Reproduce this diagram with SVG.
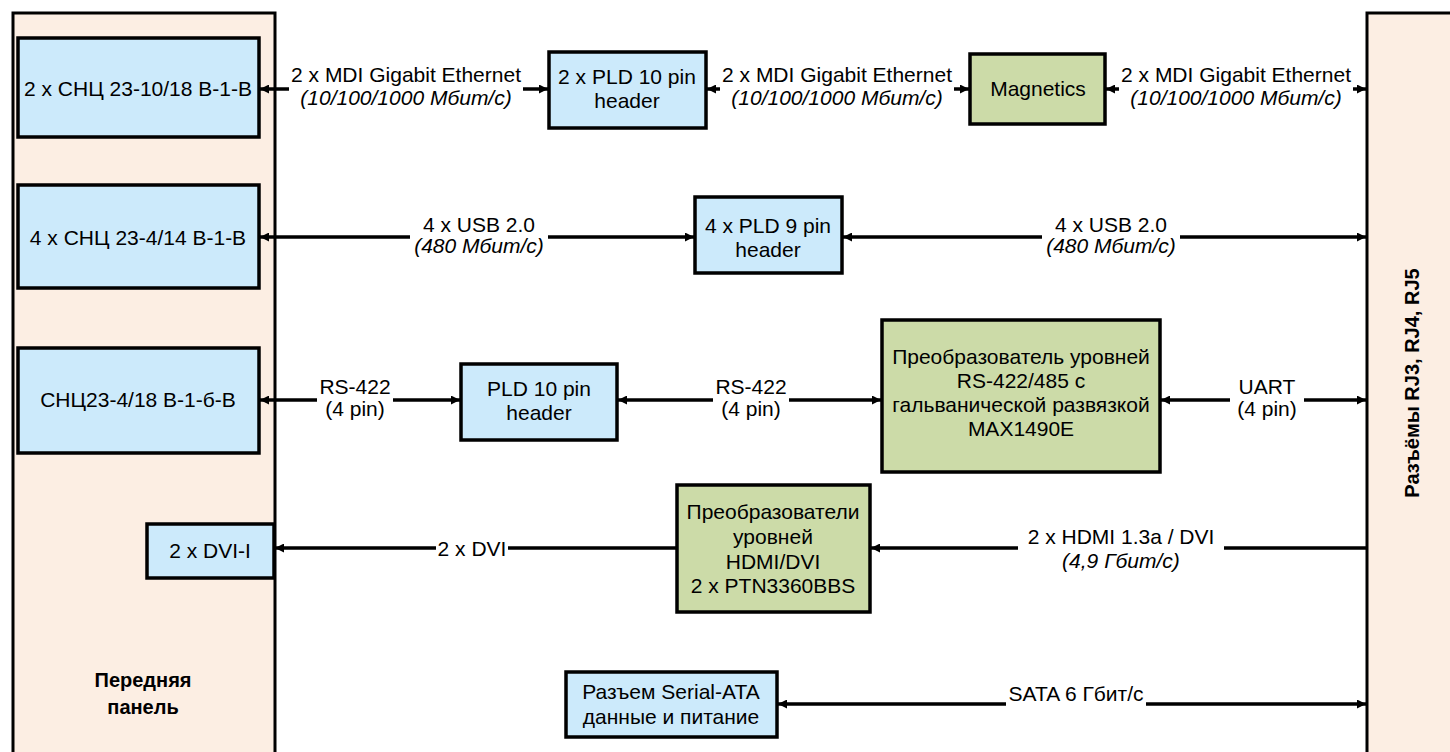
<svg xmlns="http://www.w3.org/2000/svg" width="1450" height="752" viewBox="0 0 1450 752">
<style>
text{font-family:"Liberation Sans",Arial,sans-serif;font-size:21px;fill:#000;text-anchor:middle}
.it{font-style:italic}
.b{font-weight:bold;font-size:20px}
.panel{fill:#FCEEE3;stroke:#000;stroke-width:3}
.blue{fill:#CCEAFB;stroke:#000;stroke-width:3.5}
.green{fill:#CCDBA8;stroke:#000;stroke-width:3.5}
.ln{stroke:#000;stroke-width:3.5;fill:none}
.bg{fill:#fff}
</style>
<defs>
<marker id="ah" viewBox="0 0 10 10" refX="10" refY="5" markerWidth="10" markerHeight="9" markerUnits="userSpaceOnUse" orient="auto-start-reverse">
<path d="M0,0 L10,5 L0,10 Z" fill="#000"/>
</marker>
</defs>
<rect width="1450" height="752" fill="#fff"/>
<g id="front-panel">
<rect class="panel" x="13" y="13" width="262" height="760"/>
<text class="b" x="143" y="687">Передняя</text>
<text class="b" x="143" y="714">панель</text>
</g>
<g id="rj-panel">
<rect class="panel" x="1367" y="13" width="100" height="760"/>
<text class="b" transform="translate(1419,383) rotate(-90)" x="0" y="0">Разъёмы RJ3, RJ4, RJ5</text>
</g>
<g id="snc1"><rect class="blue" x="18" y="38" width="241" height="99"/><text x="138" y="96">2 x СНЦ 23-10/18 В-1-В</text></g>
<g id="pld10x2"><rect class="blue" x="549" y="52" width="157" height="76"/><text x="627" y="84">2 x PLD 10 pin</text><text x="627" y="108">header</text></g>
<g id="magnetics"><rect class="green" x="970" y="54" width="135" height="70"/><text x="1038" y="96">Magnetics</text></g>
<g id="snc2"><rect class="blue" x="18" y="185" width="241" height="103"/><text x="138" y="245">4 x СНЦ 23-4/14 В-1-В</text></g>
<g id="pld9"><rect class="blue" x="695" y="197" width="147" height="76"/><text x="768" y="233">4 x PLD 9 pin</text><text x="768" y="257">header</text></g>
<g id="snc3"><rect class="blue" x="18" y="348" width="241" height="105"/><text x="138" y="407">СНЦ23-4/18 В-1-б-В</text></g>
<g id="pld10"><rect class="blue" x="461" y="364" width="156" height="76"/><text x="539" y="396">PLD 10 pin</text><text x="539" y="420">header</text></g>
<g id="max1490"><rect class="green" x="882" y="320" width="278" height="152"/><text x="1021" y="364">Преобразователь уровней</text><text x="1021" y="388">RS-422/485 с</text><text x="1021" y="412">гальванической развязкой</text><text x="1021" y="436">MAX1490E</text></g>
<g id="dvi"><rect class="blue" x="147" y="524" width="127" height="54"/><text x="210" y="558">2 x DVI-I</text></g>
<g id="ptn"><rect class="green" x="677" y="485" width="193" height="127"/><text x="773" y="519">Преобразователи</text><text x="773" y="544">уровней</text><text x="773" y="569">HDMI/DVI</text><text x="773" y="593">2 x PTN3360BBS</text></g>
<g id="sata"><rect class="blue" x="566" y="672" width="211" height="65"/><text x="671" y="699">Разъем Serial-ATA</text><text x="671" y="724">данные и питание</text></g>
<g id="connectors">
<line class="ln" x1="260" y1="89" x2="548" y2="89" marker-start="url(#ah)" marker-end="url(#ah)"/>
<line class="ln" x1="707" y1="89" x2="969" y2="89" marker-start="url(#ah)" marker-end="url(#ah)"/>
<line class="ln" x1="1106" y1="89" x2="1366" y2="89" marker-start="url(#ah)" marker-end="url(#ah)"/>
<line class="ln" x1="260" y1="237" x2="694" y2="237" marker-start="url(#ah)" marker-end="url(#ah)"/>
<line class="ln" x1="843" y1="237" x2="1366" y2="237" marker-start="url(#ah)" marker-end="url(#ah)"/>
<line class="ln" x1="260" y1="400" x2="460" y2="400" marker-start="url(#ah)" marker-end="url(#ah)"/>
<line class="ln" x1="618" y1="400" x2="881" y2="400" marker-start="url(#ah)" marker-end="url(#ah)"/>
<line class="ln" x1="1161" y1="400" x2="1366" y2="400" marker-start="url(#ah)" marker-end="url(#ah)"/>
<line class="ln" x1="677" y1="548" x2="275" y2="548" marker-end="url(#ah)"/>
<line class="ln" x1="1367" y1="548" x2="871" y2="548" marker-end="url(#ah)"/>
<line class="ln" x1="778" y1="704" x2="1366" y2="704" marker-start="url(#ah)" marker-end="url(#ah)"/>
<rect class="bg" x="289" y="66" width="234" height="46"/>
<text x="406" y="82">2 x MDI Gigabit Ethernet</text><text class="it" x="406" y="105">(10/100/1000 Мбит/с)</text>
<rect class="bg" x="720" y="66" width="234" height="46"/>
<text x="837" y="82">2 x MDI Gigabit Ethernet</text><text class="it" x="837" y="105">(10/100/1000 Мбит/с)</text>
<rect class="bg" x="1119" y="66" width="234" height="46"/>
<text x="1236" y="82">2 x MDI Gigabit Ethernet</text><text class="it" x="1236" y="105">(10/100/1000 Мбит/с)</text>
<rect class="bg" x="410" y="214" width="138" height="46"/>
<text x="479" y="232">4 x USB 2.0</text><text class="it" x="479" y="253">(480 Мбит/с)</text>
<rect class="bg" x="1042" y="214" width="138" height="46"/>
<text x="1111" y="232">4 x USB 2.0</text><text class="it" x="1111" y="253">(480 Мбит/с)</text>
<rect class="bg" x="317" y="376" width="76" height="46"/>
<text x="355" y="394">RS-422</text><text x="355" y="416">(4 pin)</text>
<rect class="bg" x="713" y="376" width="76" height="46"/>
<text x="751" y="394">RS-422</text><text x="751" y="416">(4 pin)</text>
<rect class="bg" x="1230" y="376" width="74" height="46"/>
<text x="1267" y="394">UART</text><text x="1267" y="416">(4 pin)</text>
<rect class="bg" x="436" y="537" width="72" height="22"/>
<text x="472" y="556">2 x DVI</text>
<rect class="bg" x="1018" y="526" width="206" height="46"/>
<text x="1121" y="544">2 x HDMI 1.3a / DVI</text><text class="it" x="1121" y="568">(4,9 Гбит/с)</text>
<rect class="bg" x="1006" y="684" width="140" height="26"/>
<text x="1076" y="701">SATA 6 Гбит/с</text>
</g>
</svg>
